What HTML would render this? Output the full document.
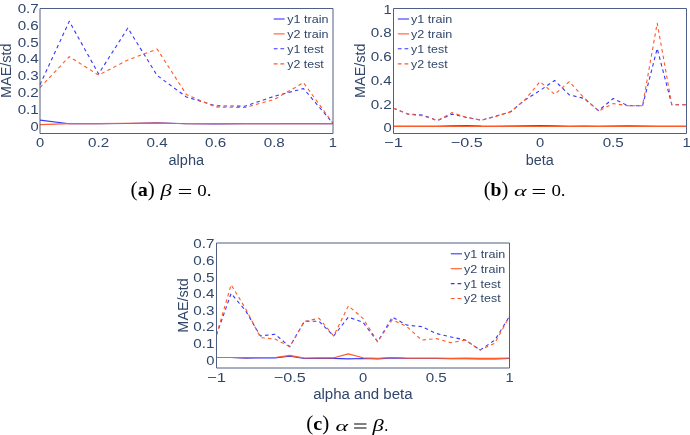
<!DOCTYPE html>
<html><head><meta charset="utf-8"><style>
html,body{margin:0;padding:0;background:#fff;width:690px;height:435px;overflow:hidden}
svg{display:block;will-change:transform}

</style></head><body>
<svg width="690" height="435" viewBox="0 0 690 435">
<g>
<polyline points="40,120.12 69.28,123.82 98.56,123.82 127.84,123.48 157.12,122.81 186.4,123.82 215.68,123.99 244.96,123.82 274.24,123.65 303.52,123.82 332.8,123.65" fill="none" stroke="#3636ff" stroke-width="1.1" stroke-linejoin="round"/>
<polyline points="40,124.66 69.28,123.65 98.56,123.65 127.84,123.32 157.12,122.98 186.4,123.82 215.68,123.82 244.96,123.65 274.24,123.65 303.52,123.82 332.8,123.65" fill="none" stroke="#ff5a28" stroke-width="1.1" stroke-linejoin="round"/>
<polyline points="40,84.68 69.28,21.34 98.56,73.92 127.84,28.06 157.12,75.44 186.4,96.94 215.68,105.84 244.96,106.18 274.24,96.27 303.52,88.54 332.8,123.15" fill="none" stroke="#3636ff" stroke-width="1.1" stroke-dasharray="3.5,3.2" stroke-linejoin="round"/>
<polyline points="40,87.53 69.28,56.62 98.56,75.1 127.84,59.98 157.12,49.06 186.4,94.59 215.68,107.02 244.96,107.52 274.24,99.46 303.52,82.66 332.8,123.15" fill="none" stroke="#ff5a28" stroke-width="1.1" stroke-dasharray="3.5,3.2" stroke-linejoin="round"/>
</g>
<path d="M40,8.5H333V133.5H40Z" fill="none" stroke="#4f5f85" stroke-width="1"/>
<g>
<polyline points="393.5,126.35 408.15,126.35 422.8,126.35 437.45,126.35 452.1,125.88 466.75,125.52 481.4,126.11 496.05,126.35 510.7,126.11 525.35,125.76 540,125.52 554.65,125.76 569.3,126.35 583.95,126.11 598.6,126.35 613.25,126.11 627.9,125.88 642.55,126.11 657.2,126.35 671.85,126.35 686.5,126.35" fill="none" stroke="#3636ff" stroke-width="1.1" stroke-linejoin="round"/>
<polyline points="393.5,126.35 408.15,126.35 422.8,126.35 437.45,126.35 452.1,126.35 466.75,126.35 481.4,126.35 496.05,126.35 510.7,126.35 525.35,126.35 540,126.35 554.65,126.35 569.3,126.35 583.95,126.35 598.6,126.35 613.25,126.35 627.9,126.35 642.55,126.35 657.2,126.35 671.85,126.35 686.5,126.35" fill="none" stroke="#ff5a28" stroke-width="1.1" stroke-linejoin="round"/>
<polyline points="393.5,108.32 408.15,114.14 422.8,115.08 437.45,120.54 452.1,114.14 466.75,117.46 481.4,120.18 496.05,116.03 510.7,111.76 525.35,99.67 540,90.53 554.65,80.45 569.3,94.92 583.95,98.36 598.6,110.58 613.25,98.48 627.9,105.71 642.55,105.71 657.2,48.55 671.85,104.77 686.5,104.77" fill="none" stroke="#3636ff" stroke-width="1.1" stroke-dasharray="3.5,3.2" stroke-linejoin="round"/>
<polyline points="393.5,108.32 408.15,114.14 422.8,115.8 437.45,120.54 452.1,112.59 466.75,117.46 481.4,120.18 496.05,116.39 510.7,111.76 525.35,99.31 540,81.64 554.65,94.33 569.3,81.64 583.95,97.77 598.6,111.05 613.25,103.58 627.9,105.71 642.55,105.71 657.2,23.17 671.85,104.77 686.5,104.77" fill="none" stroke="#ff5a28" stroke-width="1.1" stroke-dasharray="3.5,3.2" stroke-linejoin="round"/>
</g>
<path d="M393.5,8.5H686.5V133.5H393.5Z" fill="none" stroke="#4f5f85" stroke-width="1"/>
<g>
<polyline points="216.5,357.51 231.15,357.51 245.8,358.17 260.45,357.84 275.1,357.84 289.75,356.18 304.4,358.5 319.05,358.34 333.7,358.34 348.35,358.84 363,358.5 377.65,358.84 392.3,357.84 406.95,358.5 421.6,358.5 436.25,358.5 450.9,358.67 465.55,358.67 480.2,358.84 494.85,359 509.5,358.5" fill="none" stroke="#3636ff" stroke-width="1.1" stroke-linejoin="round"/>
<polyline points="216.5,357.51 231.15,357.51 245.8,357.67 260.45,357.51 275.1,357.51 289.75,355.35 304.4,358.01 319.05,357.84 333.7,357.84 348.35,353.86 363,357.84 377.65,358.34 392.3,357.51 406.95,358.17 421.6,358.17 436.25,358.17 450.9,358.34 465.55,358.17 480.2,358.34 494.85,358.34 509.5,358.17" fill="none" stroke="#ff5a28" stroke-width="1.1" stroke-linejoin="round"/>
<polyline points="216.5,334.93 231.15,293.43 245.8,311.03 260.45,335.93 275.1,334.27 289.75,346.72 304.4,321.32 319.05,321.32 333.7,335.93 348.35,317.17 363,322.32 377.65,341.74 392.3,317.17 406.95,325.14 421.6,326.63 436.25,333.44 450.9,336.92 465.55,340.08 480.2,350.04 494.85,340.08 509.5,316.34" fill="none" stroke="#3636ff" stroke-width="1.1" stroke-dasharray="3.5,3.2" stroke-linejoin="round"/>
<polyline points="216.5,334.93 231.15,284.63 245.8,309.04 260.45,337.59 275.1,339.08 289.75,346.72 304.4,321.32 319.05,318.33 333.7,335.93 348.35,305.88 363,318.33 377.65,341.74 392.3,319.66 406.95,326.63 421.6,340.08 436.25,338.58 450.9,342.73 465.55,340.08 480.2,350.04 494.85,343.07 509.5,316.34" fill="none" stroke="#ff5a28" stroke-width="1.1" stroke-dasharray="3.5,3.2" stroke-linejoin="round"/>
</g>
<path d="M216.5,243H509.5V368H216.5Z" fill="none" stroke="#4f5f85" stroke-width="1"/>
<text x="38.8" y="130.5" font-size="12.7" text-anchor="end" font-family="Liberation Sans" fill="#31466a" textLength="8.2" lengthAdjust="spacingAndGlyphs">0</text>
<text x="38.8" y="113.7" font-size="12.7" text-anchor="end" font-family="Liberation Sans" fill="#31466a" textLength="21.1" lengthAdjust="spacingAndGlyphs">0.1</text>
<text x="38.8" y="96.9" font-size="12.7" text-anchor="end" font-family="Liberation Sans" fill="#31466a" textLength="21.1" lengthAdjust="spacingAndGlyphs">0.2</text>
<text x="38.8" y="80.1" font-size="12.7" text-anchor="end" font-family="Liberation Sans" fill="#31466a" textLength="21.1" lengthAdjust="spacingAndGlyphs">0.3</text>
<text x="38.8" y="63.3" font-size="12.7" text-anchor="end" font-family="Liberation Sans" fill="#31466a" textLength="21.1" lengthAdjust="spacingAndGlyphs">0.4</text>
<text x="38.8" y="46.5" font-size="12.7" text-anchor="end" font-family="Liberation Sans" fill="#31466a" textLength="21.1" lengthAdjust="spacingAndGlyphs">0.5</text>
<text x="38.8" y="29.7" font-size="12.7" text-anchor="end" font-family="Liberation Sans" fill="#31466a" textLength="21.1" lengthAdjust="spacingAndGlyphs">0.6</text>
<text x="38.8" y="12.9" font-size="12.7" text-anchor="end" font-family="Liberation Sans" fill="#31466a" textLength="21.1" lengthAdjust="spacingAndGlyphs">0.7</text>
<text x="40" y="146.95" font-size="12.7" text-anchor="middle" font-family="Liberation Sans" fill="#31466a" textLength="8.2" lengthAdjust="spacingAndGlyphs">0</text>
<text x="98.56" y="146.95" font-size="12.7" text-anchor="middle" font-family="Liberation Sans" fill="#31466a" textLength="21.1" lengthAdjust="spacingAndGlyphs">0.2</text>
<text x="157.12" y="146.95" font-size="12.7" text-anchor="middle" font-family="Liberation Sans" fill="#31466a" textLength="21.1" lengthAdjust="spacingAndGlyphs">0.4</text>
<text x="215.68" y="146.95" font-size="12.7" text-anchor="middle" font-family="Liberation Sans" fill="#31466a" textLength="21.1" lengthAdjust="spacingAndGlyphs">0.6</text>
<text x="274.24" y="146.95" font-size="12.7" text-anchor="middle" font-family="Liberation Sans" fill="#31466a" textLength="21.1" lengthAdjust="spacingAndGlyphs">0.8</text>
<text x="332.8" y="146.95" font-size="12.7" text-anchor="middle" font-family="Liberation Sans" fill="#31466a" textLength="8.2" lengthAdjust="spacingAndGlyphs">1</text>
<text x="391.8" y="132.3" font-size="12.7" text-anchor="end" font-family="Liberation Sans" fill="#31466a" textLength="8.2" lengthAdjust="spacingAndGlyphs">0</text>
<text x="391.8" y="108.58" font-size="12.7" text-anchor="end" font-family="Liberation Sans" fill="#31466a" textLength="21.1" lengthAdjust="spacingAndGlyphs">0.2</text>
<text x="391.8" y="84.86" font-size="12.7" text-anchor="end" font-family="Liberation Sans" fill="#31466a" textLength="21.1" lengthAdjust="spacingAndGlyphs">0.4</text>
<text x="391.8" y="61.14" font-size="12.7" text-anchor="end" font-family="Liberation Sans" fill="#31466a" textLength="21.1" lengthAdjust="spacingAndGlyphs">0.6</text>
<text x="391.8" y="37.42" font-size="12.7" text-anchor="end" font-family="Liberation Sans" fill="#31466a" textLength="21.1" lengthAdjust="spacingAndGlyphs">0.8</text>
<text x="391.8" y="13.7" font-size="12.7" text-anchor="end" font-family="Liberation Sans" fill="#31466a" textLength="8.2" lengthAdjust="spacingAndGlyphs">1</text>
<text x="393.5" y="147.25" font-size="12.7" text-anchor="middle" font-family="Liberation Sans" fill="#31466a" textLength="19.01" lengthAdjust="spacingAndGlyphs">−1</text>
<text x="466.75" y="147.25" font-size="12.7" text-anchor="middle" font-family="Liberation Sans" fill="#31466a" textLength="31.91" lengthAdjust="spacingAndGlyphs">−0.5</text>
<text x="540" y="147.25" font-size="12.7" text-anchor="middle" font-family="Liberation Sans" fill="#31466a" textLength="8.2" lengthAdjust="spacingAndGlyphs">0</text>
<text x="613.25" y="147.25" font-size="12.7" text-anchor="middle" font-family="Liberation Sans" fill="#31466a" textLength="21.1" lengthAdjust="spacingAndGlyphs">0.5</text>
<text x="686.5" y="147.25" font-size="12.7" text-anchor="middle" font-family="Liberation Sans" fill="#31466a" textLength="8.2" lengthAdjust="spacingAndGlyphs">1</text>
<text x="214.4" y="364.5" font-size="12.7" text-anchor="end" font-family="Liberation Sans" fill="#31466a" textLength="8.2" lengthAdjust="spacingAndGlyphs">0</text>
<text x="214.4" y="347.9" font-size="12.7" text-anchor="end" font-family="Liberation Sans" fill="#31466a" textLength="21.1" lengthAdjust="spacingAndGlyphs">0.1</text>
<text x="214.4" y="331.3" font-size="12.7" text-anchor="end" font-family="Liberation Sans" fill="#31466a" textLength="21.1" lengthAdjust="spacingAndGlyphs">0.2</text>
<text x="214.4" y="314.7" font-size="12.7" text-anchor="end" font-family="Liberation Sans" fill="#31466a" textLength="21.1" lengthAdjust="spacingAndGlyphs">0.3</text>
<text x="214.4" y="298.1" font-size="12.7" text-anchor="end" font-family="Liberation Sans" fill="#31466a" textLength="21.1" lengthAdjust="spacingAndGlyphs">0.4</text>
<text x="214.4" y="281.5" font-size="12.7" text-anchor="end" font-family="Liberation Sans" fill="#31466a" textLength="21.1" lengthAdjust="spacingAndGlyphs">0.5</text>
<text x="214.4" y="264.9" font-size="12.7" text-anchor="end" font-family="Liberation Sans" fill="#31466a" textLength="21.1" lengthAdjust="spacingAndGlyphs">0.6</text>
<text x="214.4" y="248.3" font-size="12.7" text-anchor="end" font-family="Liberation Sans" fill="#31466a" textLength="21.1" lengthAdjust="spacingAndGlyphs">0.7</text>
<text x="216.5" y="381.95" font-size="12.7" text-anchor="middle" font-family="Liberation Sans" fill="#31466a" textLength="19.01" lengthAdjust="spacingAndGlyphs">−1</text>
<text x="289.75" y="381.95" font-size="12.7" text-anchor="middle" font-family="Liberation Sans" fill="#31466a" textLength="31.91" lengthAdjust="spacingAndGlyphs">−0.5</text>
<text x="363" y="381.95" font-size="12.7" text-anchor="middle" font-family="Liberation Sans" fill="#31466a" textLength="8.2" lengthAdjust="spacingAndGlyphs">0</text>
<text x="436.25" y="381.95" font-size="12.7" text-anchor="middle" font-family="Liberation Sans" fill="#31466a" textLength="21.1" lengthAdjust="spacingAndGlyphs">0.5</text>
<text x="509.5" y="381.95" font-size="12.7" text-anchor="middle" font-family="Liberation Sans" fill="#31466a" textLength="8.2" lengthAdjust="spacingAndGlyphs">1</text>
<text x="186.3" y="164.6" font-size="13.8" text-anchor="middle" font-family="Liberation Sans" fill="#31466a" textLength="35.5" lengthAdjust="spacingAndGlyphs">alpha</text>
<text x="539.7" y="164.5" font-size="13.8" text-anchor="middle" font-family="Liberation Sans" fill="#31466a" textLength="28" lengthAdjust="spacingAndGlyphs">beta</text>
<text x="362.9" y="398.8" font-size="13.8" text-anchor="middle" font-family="Liberation Sans" fill="#31466a" textLength="99.5" lengthAdjust="spacingAndGlyphs">alpha and beta</text>
<text transform="translate(10.8,70.7) rotate(-90)" x="0" y="0" font-size="13.8" text-anchor="middle" font-family="Liberation Sans" fill="#31466a" textLength="54.5" lengthAdjust="spacingAndGlyphs">MAE/std</text>
<text transform="translate(364.7,70.7) rotate(-90)" x="0" y="0" font-size="13.8" text-anchor="middle" font-family="Liberation Sans" fill="#31466a" textLength="54.5" lengthAdjust="spacingAndGlyphs">MAE/std</text>
<text transform="translate(187.9,305.4) rotate(-90)" x="0" y="0" font-size="13.8" text-anchor="middle" font-family="Liberation Sans" fill="#31466a" textLength="54.5" lengthAdjust="spacingAndGlyphs">MAE/std</text>
<line x1="273.7" y1="19" x2="284.6" y2="19" stroke="#3636ff" stroke-width="1.1"/>
<text x="287.3" y="22.9" font-size="10.2" text-anchor="start" font-family="Liberation Sans" fill="#31466a" textLength="41.2" lengthAdjust="spacingAndGlyphs">y1 train</text>
<line x1="273.7" y1="33.9" x2="284.6" y2="33.9" stroke="#ff5a28" stroke-width="1.1"/>
<text x="287.3" y="37.8" font-size="10.2" text-anchor="start" font-family="Liberation Sans" fill="#31466a" textLength="41.2" lengthAdjust="spacingAndGlyphs">y2 train</text>
<line x1="273.7" y1="48.8" x2="284.6" y2="48.8" stroke="#3636ff" stroke-width="1.1" stroke-dasharray="3.8,2.9"/>
<text x="287.3" y="52.7" font-size="10.2" text-anchor="start" font-family="Liberation Sans" fill="#31466a" textLength="36.5" lengthAdjust="spacingAndGlyphs">y1 test</text>
<line x1="273.7" y1="63.9" x2="284.6" y2="63.9" stroke="#ff5a28" stroke-width="1.1" stroke-dasharray="3.8,2.9"/>
<text x="287.3" y="67.8" font-size="10.2" text-anchor="start" font-family="Liberation Sans" fill="#31466a" textLength="36.5" lengthAdjust="spacingAndGlyphs">y2 test</text>
<line x1="397.8" y1="19" x2="409.1" y2="19" stroke="#3636ff" stroke-width="1.1"/>
<text x="411.1" y="22.9" font-size="10.2" text-anchor="start" font-family="Liberation Sans" fill="#31466a" textLength="41.2" lengthAdjust="spacingAndGlyphs">y1 train</text>
<line x1="397.8" y1="33.9" x2="409.1" y2="33.9" stroke="#ff5a28" stroke-width="1.1"/>
<text x="411.1" y="37.8" font-size="10.2" text-anchor="start" font-family="Liberation Sans" fill="#31466a" textLength="41.2" lengthAdjust="spacingAndGlyphs">y2 train</text>
<line x1="397.8" y1="48.8" x2="409.1" y2="48.8" stroke="#3636ff" stroke-width="1.1" stroke-dasharray="3.8,2.9"/>
<text x="411.1" y="52.7" font-size="10.2" text-anchor="start" font-family="Liberation Sans" fill="#31466a" textLength="36.5" lengthAdjust="spacingAndGlyphs">y1 test</text>
<line x1="397.8" y1="63.9" x2="409.1" y2="63.9" stroke="#ff5a28" stroke-width="1.1" stroke-dasharray="3.8,2.9"/>
<text x="411.1" y="67.8" font-size="10.2" text-anchor="start" font-family="Liberation Sans" fill="#31466a" textLength="36.5" lengthAdjust="spacingAndGlyphs">y2 test</text>
<line x1="450.8" y1="253.8" x2="462" y2="253.8" stroke="#3636ff" stroke-width="1.1"/>
<text x="464.1" y="257.7" font-size="10.2" text-anchor="start" font-family="Liberation Sans" fill="#31466a" textLength="41.2" lengthAdjust="spacingAndGlyphs">y1 train</text>
<line x1="450.8" y1="268.7" x2="462" y2="268.7" stroke="#ff5a28" stroke-width="1.1"/>
<text x="464.1" y="272.6" font-size="10.2" text-anchor="start" font-family="Liberation Sans" fill="#31466a" textLength="41.2" lengthAdjust="spacingAndGlyphs">y2 train</text>
<line x1="450.8" y1="283.6" x2="462" y2="283.6" stroke="#3636ff" stroke-width="1.1" stroke-dasharray="3.8,2.9"/>
<text x="464.1" y="287.5" font-size="10.2" text-anchor="start" font-family="Liberation Sans" fill="#31466a" textLength="36.5" lengthAdjust="spacingAndGlyphs">y1 test</text>
<line x1="450.8" y1="298.5" x2="462" y2="298.5" stroke="#ff5a28" stroke-width="1.1" stroke-dasharray="3.8,2.9"/>
<text x="464.1" y="302.4" font-size="10.2" text-anchor="start" font-family="Liberation Sans" fill="#31466a" textLength="36.5" lengthAdjust="spacingAndGlyphs">y2 test</text>
<text x="130.6" y="195.7" font-size="19.5" font-family="Liberation Serif" font-weight="bold" fill="#000" textLength="24.2" lengthAdjust="spacingAndGlyphs"><tspan font-weight="normal" font-size="20.5">(</tspan>a<tspan font-weight="normal" font-size="20.5">)</tspan></text>
<text x="160.6" y="196" font-size="17" font-family="Liberation Serif" font-style="italic" fill="#000" textLength="11.2" lengthAdjust="spacingAndGlyphs">β</text>
<path d="M178.9,189.5H191.1M178.9,193.5H191.1" stroke="#000" stroke-width="1" fill="none"/>
<text x="197.2" y="196" font-size="16" font-family="Liberation Serif" fill="#000" textLength="14.2" lengthAdjust="spacingAndGlyphs">0.</text>
<text x="483.7" y="195.7" font-size="19.5" font-family="Liberation Serif" font-weight="bold" fill="#000" textLength="24.7" lengthAdjust="spacingAndGlyphs"><tspan font-weight="normal" font-size="20.5">(</tspan>b<tspan font-weight="normal" font-size="20.5">)</tspan></text>
<text x="513.9" y="196.3" font-size="15" font-family="Liberation Serif" font-style="italic" fill="#000" textLength="12.6" lengthAdjust="spacingAndGlyphs">α</text>
<path d="M532.7,189.5H545M532.7,193.5H545" stroke="#000" stroke-width="1" fill="none"/>
<text x="551.4" y="196" font-size="16" font-family="Liberation Serif" fill="#000" textLength="14.2" lengthAdjust="spacingAndGlyphs">0.</text>
<text x="306.3" y="430.3" font-size="19.5" font-family="Liberation Serif" font-weight="bold" fill="#000" textLength="23" lengthAdjust="spacingAndGlyphs"><tspan font-weight="normal" font-size="20.5">(</tspan>c<tspan font-weight="normal" font-size="20.5">)</tspan></text>
<text x="335.6" y="430.9" font-size="15" font-family="Liberation Serif" font-style="italic" fill="#000" textLength="12.6" lengthAdjust="spacingAndGlyphs">α</text>
<path d="M354.1,424H366.5M354.1,428H366.5" stroke="#000" stroke-width="1" fill="none"/>
<text x="372.6" y="430.6" font-size="17" font-family="Liberation Serif" font-style="italic" fill="#000" textLength="11.2" lengthAdjust="spacingAndGlyphs">β</text>
<text x="384.2" y="430.6" font-size="16" font-family="Liberation Serif" fill="#000">.</text>
</svg>
</body></html>
